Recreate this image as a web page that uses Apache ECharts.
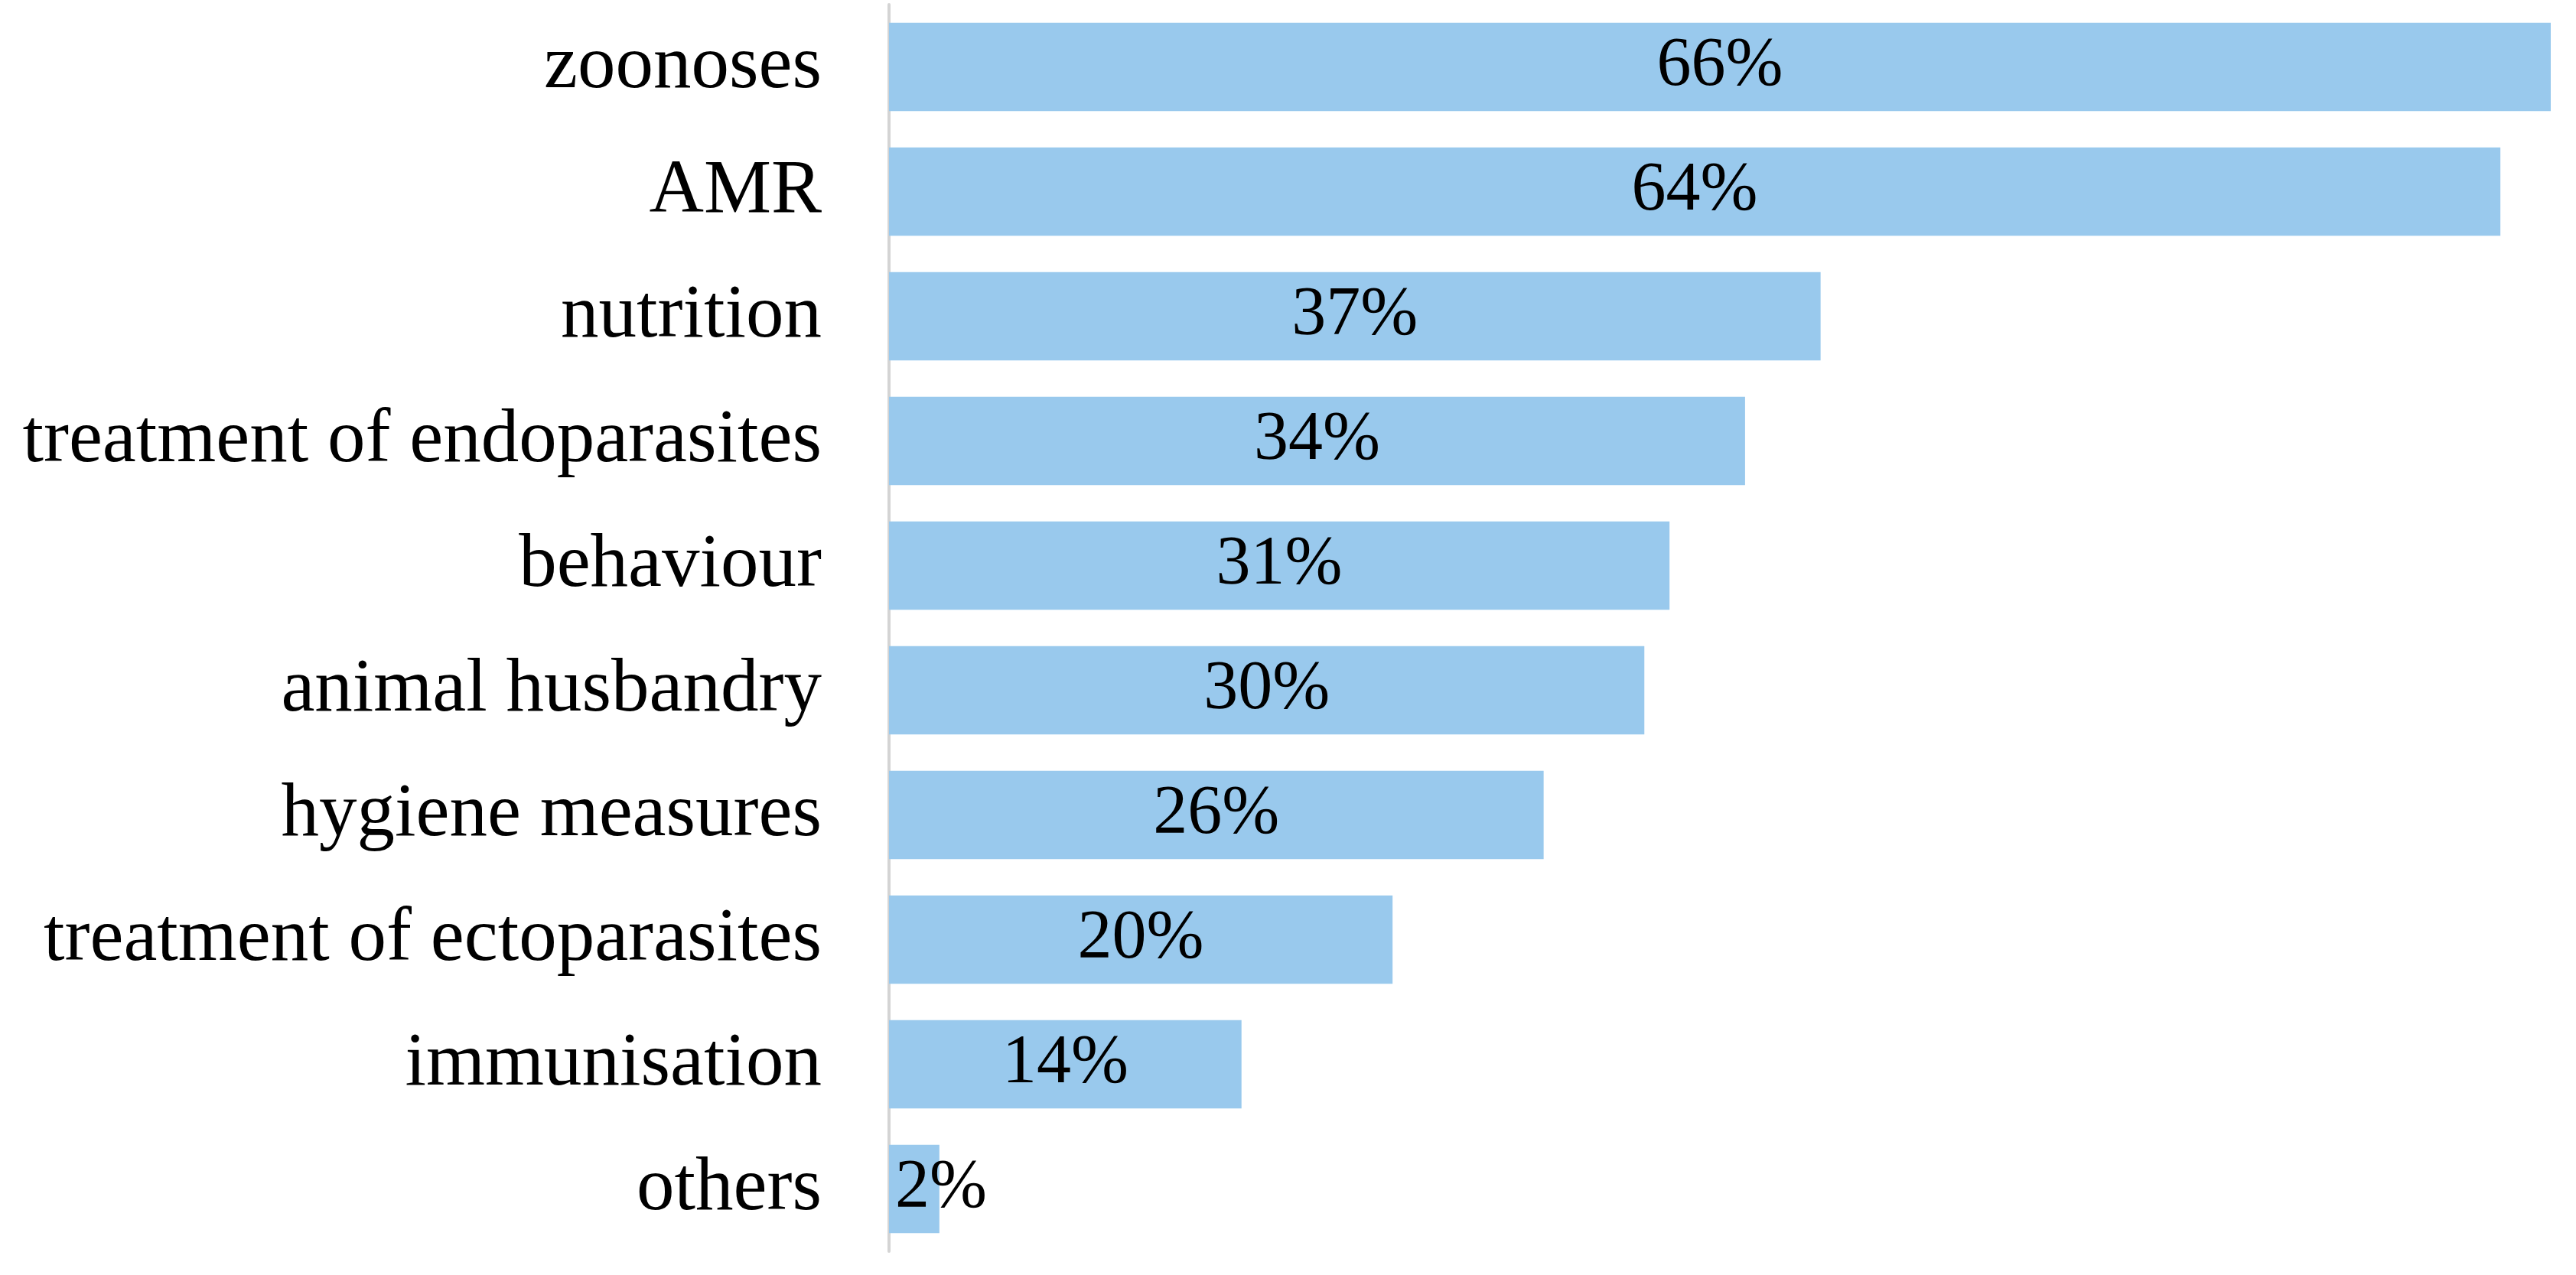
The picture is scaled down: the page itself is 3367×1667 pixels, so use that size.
<!DOCTYPE html>
<html>
<head>
<meta charset="utf-8">
<script src="https://cdn.jsdelivr.net/npm/echarts@6/dist/echarts.min.js"></script>
<style>
  html, body { margin: 0; padding: 0; background: #fff; }
  #chart { width: 3367px; height: 1667px; }
</style>
</head>
<body>
<div id="chart"></div>
<script>
// categories top to bottom, as in the picture
const topics = [
  'zoonoses',
  'AMR',
  'nutrition',
  'treatment of endoparasites',
  'behaviour',
  'animal husbandry',
  'hygiene measures',
  'treatment of ectoparasites',
  'immunisation',
  'others'
];
const shares = [66, 64, 37, 34, 31, 30, 26, 20, 14, 2];

const chart = echarts.init(document.getElementById('chart'));

const fontFamily = '"Liberation Serif", "DejaVu Serif", serif';

// very short bars get their label pushed to the left edge, like the original
const barData = shares.map(function (v) {
  if (v < 5) {
    return { value: v, label: { position: 'insideLeft', distance: 8 } };
  }
  return v;
});

const option = {
  animation: false,
  grid: {
    left: 1162,
    right: 33,
    top: 6,
    bottom: 31,
    containLabel: false
  },
  xAxis: {
    type: 'value',
    min: 0,
    max: 66,
    show: false
  },
  yAxis: {
    type: 'category',
    data: topics,
    inverse: true,
    axisLine: { show: true, lineStyle: { color: '#d4d4d4', width: 4 } },
    axisTick: { show: false },
    axisLabel: {
      margin: 88,
      color: '#000',
      fontFamily: fontFamily,
      fontSize: 99
    },
    splitLine: { show: false }
  },
  series: [
    {
      type: 'bar',
      data: barData,
      barCategoryGap: '29%',
      itemStyle: { color: '#99c9ed' },
      label: {
        show: true,
        position: 'inside',
        color: '#000',
        fontFamily: fontFamily,
        fontSize: 90,
        formatter: '{c}%'
      }
    }
  ]
};

chart.setOption(option);
</script>
</body>
</html>
